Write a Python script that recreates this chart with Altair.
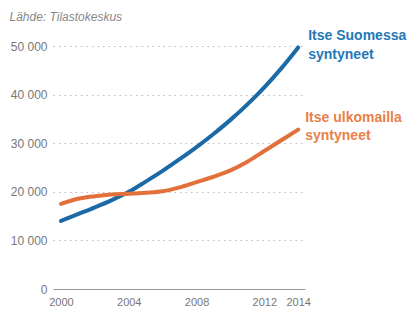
import altair as alt
import pandas as pd

years = list(range(2000, 2015))
suomessa = [14000, 15400, 16800, 18300, 20000, 22100, 24300, 26700, 29200,
            31900, 34800, 38000, 41500, 45400, 49700]
ulkomailla = [17500, 18560, 19100, 19450, 19600, 19800, 20100, 20900, 22000,
              23100, 24400, 26200, 28400, 30600, 32800]
series_names = ["Itse Suomessa syntyneet", "Itse ulkomailla syntyneet"]
label_lines = ["Itse Suomessa\nsyntyneet", "Itse ulkomailla\nsyntyneet"]
source_text = "Lähde: Tilastokeskus"
colors = ["#1b69a5", "#e2703a"]
label_colors = ["#2477b6", "#e8804a"]
x_ticks = [2000, 2004, 2008, 2012, 2014]
y_ticks = [0, 10000, 20000, 30000, 40000, 50000]

rows = []
for name, vals in zip(series_names, [suomessa, ulkomailla]):
    for y, v in zip(years, vals):
        rows.append({"vuosi": y, "arvo": v, "sarja": name})
df = pd.DataFrame(rows)

labels = pd.DataFrame({
    "sarja": series_names,
    "teksti": label_lines,
    "vuosi": [years[-1], years[-1]],
    "arvo": [suomessa[-1], ulkomailla[-1]],
})

xscale = alt.Scale(domain=[1999.53, 2014.4], nice=False, zero=False)
yscale = alt.Scale(domain=[0, 50000], nice=False)
cscale = alt.Scale(domain=series_names, range=colors)

base_x = alt.X("vuosi:Q", scale=xscale,
               axis=alt.Axis(values=x_ticks, format="d", title=None, grid=False,
                             ticks=False, domain=True, domainColor="#999999",
                             labelColor="#777777", labelFontSize=11,
                             labelPadding=7, labelFont="Liberation Sans"))
base_y = alt.Y("arvo:Q", scale=yscale,
               axis=alt.Axis(values=y_ticks, title=source_text, titleAngle=0,
                             titleAlign="left", titleBaseline="alphabetic",
                             titleX=-44, titleY=-26, titleFontSize=12,
                             titleFontStyle="italic", titleFontWeight="normal",
                             titleColor="#888888", titleFont="Liberation Sans",
                             domain=False, ticks=False,
                             grid=True, gridColor="#bbbbbb", gridDash=[1.5, 4],
                             gridWidth=1.2,
                             labelColor="#777777", labelFontSize=12, labelPadding=6,
                             labelFont="Liberation Sans",
                             labelExpr="replace(format(datum.value, ','), ',', ' ')"))

lines = alt.Chart(df).mark_line(strokeWidth=4, interpolate="monotone",
                                strokeCap="round").encode(
    x=base_x, y=base_y,
    color=alt.Color("sarja:N", scale=cscale, legend=None),
)

text1 = alt.Chart(labels.iloc[[0]]).mark_text(
    align="left", baseline="middle", dx=10, dy=-11, lineBreak="\n",
    lineHeight=19, font="Liberation Sans", fontWeight="bold", fontSize=14,
    color=label_colors[0]).encode(
    x=alt.X("vuosi:Q", scale=xscale), y=alt.Y("arvo:Q", scale=yscale), text="teksti:N")
text2 = alt.Chart(labels.iloc[[1]]).mark_text(
    align="left", baseline="middle", dx=7, dy=-12, lineBreak="\n",
    lineHeight=18, font="Liberation Sans", fontWeight="bold", fontSize=14,
    color=label_colors[1]).encode(
    x=alt.X("vuosi:Q", scale=xscale), y=alt.Y("arvo:Q", scale=yscale), text="teksti:N")

chart = alt.layer(lines, text1, text2).properties(
    width=252, height=243,
    autosize=alt.AutoSizeParams(type="none"),
    padding={"left": 45, "top": 38, "right": 107, "bottom": 20},
).configure(background="white", view=alt.ViewConfig(stroke=None))

chart.save("out.html", embed_options={"renderer": "svg", "actions": False})
